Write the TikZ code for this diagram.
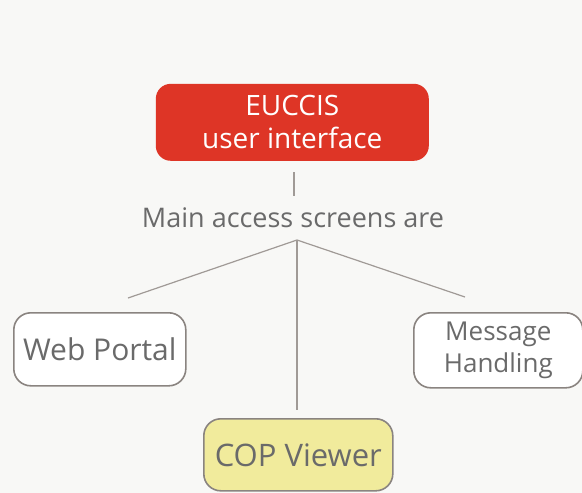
\documentclass[tikz,border=0pt]{standalone}
\usepackage{fontspec}
\setmainfont{Open Sans}
\definecolor{bgc}{HTML}{F8F8F6}
\definecolor{redbox}{HTML}{DE3526}
\definecolor{txtgray}{HTML}{6A6A6A}
\definecolor{edgegray}{HTML}{8A8480}
\definecolor{linegray}{HTML}{A09A96}
\definecolor{yel}{HTML}{F1EB9C}
\begin{document}
\begin{tikzpicture}[x=1pt,y=-1pt,
  box/.style={draw=edgegray, line width=1.6pt, rounded corners=17pt, align=center,
    text=txtgray, inner sep=0pt, anchor=north west},
  conn/.style={draw=linegray, line width=1.2pt}]
\fill[bgc] (0,0) rectangle (582,493);
\useasboundingbox (0,0) rectangle (582,493);
\node[box, fill=redbox, draw=none, text=white, minimum width=273pt, minimum height=77pt,
  rounded corners=15pt, font=\fontsize{28}{33}\selectfont] (ui) at (155,83) {EUCCIS\\user interface};
\node[text=txtgray, font=\fontsize{27}{30}\selectfont, inner sep=0pt, anchor=base] (main) at (293,227) {Main access screens are};
\coordinate (top) at (294,172);
\coordinate (hub) at (297,240);
\coordinate (wtop) at (128,298);
\coordinate (mtop) at (465,297);
\node[box, fill=white, minimum width=172pt, minimum height=73pt, font=\fontsize{30}{34}\selectfont] (web) at (13,312) {Web Portal};
\node[box, fill=white, minimum width=169pt, minimum height=75pt, font=\fontsize{26}{32}\selectfont] (msg) at (413,312) {Message\\Handling};
\node[box, fill=yel, minimum width=189pt, minimum height=72pt, font=\fontsize{31}{35}\selectfont] (cop) at (203,418) {COP Viewer};
\coordinate (ctop) at (297,410);
\draw[conn] (top) -- (294,196);
\draw[conn] (hub) -- (wtop);
\draw[conn] (hub) -- (mtop);
\draw[conn] (hub) -- (ctop);
\end{tikzpicture}
\end{document}
